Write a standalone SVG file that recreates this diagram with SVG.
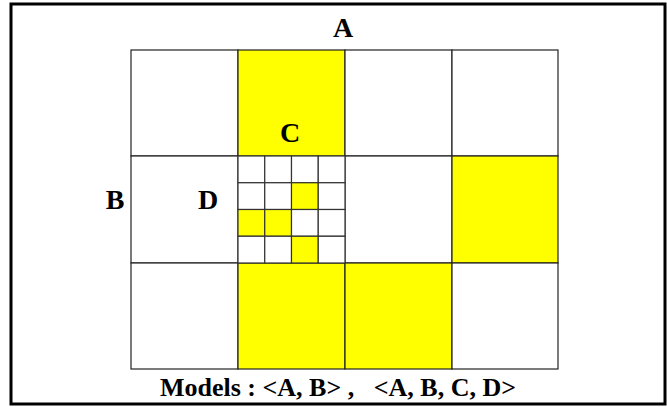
<svg xmlns="http://www.w3.org/2000/svg" width="667" height="407" viewBox="0 0 667 407">
<style>
text{font-family:"Liberation Serif","Times New Roman","DejaVu Serif",serif;font-weight:bold;fill:#000}
.big{font-size:28px}
.cell{stroke:#222;stroke-width:1.2}
.y{fill:#ffff00}
.w{fill:#fff}
.sub{stroke:#333;stroke-width:1.2}
</style>
<rect x="0" y="0" width="667" height="407" fill="#fff"/>
<rect x="11" y="4" width="654" height="400" fill="#fff" stroke="#000" stroke-width="3"/>
<g id="grid">
<rect class="cell w" x="131" y="50" width="107" height="106"/>
<rect class="cell y" x="238" y="50" width="107" height="106"/>
<rect class="cell w" x="345" y="50" width="107" height="106"/>
<rect class="cell w" x="452" y="50" width="106" height="106"/>
<rect class="cell w" x="131" y="156" width="107" height="107"/>
<rect class="cell w" x="345" y="156" width="107" height="107"/>
<rect class="cell y" x="452" y="156" width="106" height="107"/>
<rect class="cell w" x="131" y="263" width="107" height="106"/>
<rect class="cell y" x="238" y="263" width="107" height="106"/>
<rect class="cell y" x="345" y="263" width="107" height="106"/>
<rect class="cell w" x="452" y="263" width="106" height="106"/>
</g>
<g id="subgrid">
<rect class="sub w" x="238" y="156" width="26.75" height="26.75"/>
<rect class="sub w" x="264.75" y="156" width="26.75" height="26.75"/>
<rect class="sub w" x="291.5" y="156" width="26.75" height="26.75"/>
<rect class="sub w" x="318.25" y="156" width="26.75" height="26.75"/>
<rect class="sub w" x="238" y="182.75" width="26.75" height="26.75"/>
<rect class="sub w" x="264.75" y="182.75" width="26.75" height="26.75"/>
<rect class="sub y" x="291.5" y="182.75" width="26.75" height="26.75"/>
<rect class="sub w" x="318.25" y="182.75" width="26.75" height="26.75"/>
<rect class="sub y" x="238" y="209.5" width="26.75" height="26.75"/>
<rect class="sub y" x="264.75" y="209.5" width="26.75" height="26.75"/>
<rect class="sub w" x="291.5" y="209.5" width="26.75" height="26.75"/>
<rect class="sub w" x="318.25" y="209.5" width="26.75" height="26.75"/>
<rect class="sub w" x="238" y="236.25" width="26.75" height="26.75"/>
<rect class="sub w" x="264.75" y="236.25" width="26.75" height="26.75"/>
<rect class="sub y" x="291.5" y="236.25" width="26.75" height="26.75"/>
<rect class="sub w" x="318.25" y="236.25" width="26.75" height="26.75"/>
</g>
<g id="labels">
<text class="big" x="343" y="37" text-anchor="middle">A</text>
<text class="big" x="115" y="209" text-anchor="middle">B</text>
<text class="big" x="290" y="142" text-anchor="middle">C</text>
<text class="big" x="208" y="209" text-anchor="middle">D</text>
<text x="338" y="396" text-anchor="middle" font-size="26" xml:space="preserve" style="white-space:pre">Models : &lt;A, B&gt; ,   &lt;A, B, C, D&gt;</text>
</g>
</svg>
